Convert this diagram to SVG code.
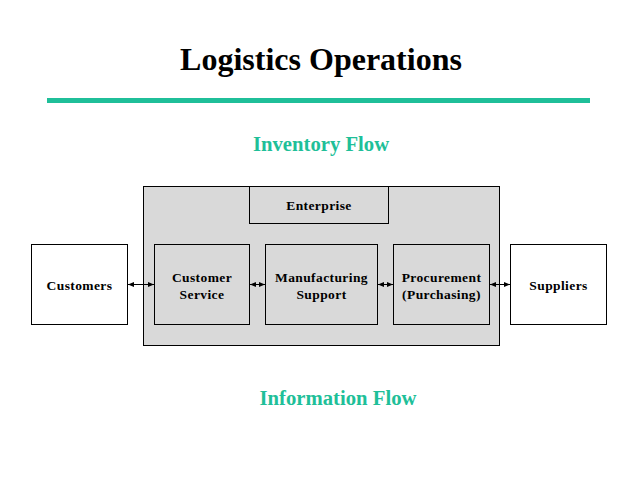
<svg xmlns="http://www.w3.org/2000/svg" width="638" height="479" viewBox="0 0 638 479">
<style>
.t{font-family:"Liberation Serif","Times New Roman",serif;font-weight:bold;text-anchor:middle}
.lbl{font-size:13.5px;fill:#000;letter-spacing:0.4px}
.flow{font-size:20.7px;fill:#1fbf99}
.box{stroke:#000;stroke-width:1}
.w{fill:#fff}
.g{fill:#d9d9d9}
.c{stroke:#000;stroke-width:1;fill:none;marker-start:url(#ah);marker-end:url(#ah)}
</style>
<defs>
<marker id="ah" viewBox="0 0 10 10" refX="10" refY="5" markerWidth="6" markerHeight="6" markerUnits="userSpaceOnUse" orient="auto-start-reverse">
<path d="M0,1 L10,5 L0,9 Z" fill="#000"/>
</marker>
</defs>
<rect width="638" height="479" fill="#fff"/>
<text class="t" x="321" y="70" font-size="32">Logistics Operations</text>
<rect x="47" y="98" width="543" height="5" fill="#1fbf99"/>
<text class="t flow" x="321" y="151">Inventory Flow</text>
<text class="t flow" x="338" y="405">Information Flow</text>
<g id="enterprise-area"><rect class="box g" x="143.5" y="186.5" width="356" height="159"/></g>
<g id="enterprise"><rect class="box g" x="249.5" y="186.5" width="139" height="37"/><text class="t lbl" x="319" y="210">Enterprise</text></g>
<g id="customers"><rect class="box w" x="31.5" y="244.5" width="96" height="80"/><text class="t lbl" x="79.5" y="290">Customers</text></g>
<g id="customer-service"><rect class="box g" x="154.5" y="244.5" width="95" height="80"/><text class="t lbl" x="202" y="282">Customer</text><text class="t lbl" x="202" y="299">Service</text></g>
<g id="manufacturing-support"><rect class="box g" x="265.5" y="244.5" width="112" height="80"/><text class="t lbl" x="321.5" y="282">Manufacturing</text><text class="t lbl" x="321.5" y="299">Support</text></g>
<g id="procurement"><rect class="box g" x="393.5" y="244.5" width="96" height="80"/><text class="t lbl" x="441.5" y="282">Procurement</text><text class="t lbl" x="441.5" y="299">(Purchasing)</text></g>
<g id="suppliers"><rect class="box w" x="510.5" y="244.5" width="96" height="80"/><text class="t lbl" x="558.5" y="290">Suppliers</text></g>
<g id="connectors">
<line class="c" x1="128" y1="284.5" x2="154" y2="284.5"/>
<line class="c" x1="250" y1="284.5" x2="265" y2="284.5"/>
<line class="c" x1="378" y1="284.5" x2="393" y2="284.5"/>
<line class="c" x1="490" y1="284.5" x2="510" y2="284.5"/>
</g>
</svg>
